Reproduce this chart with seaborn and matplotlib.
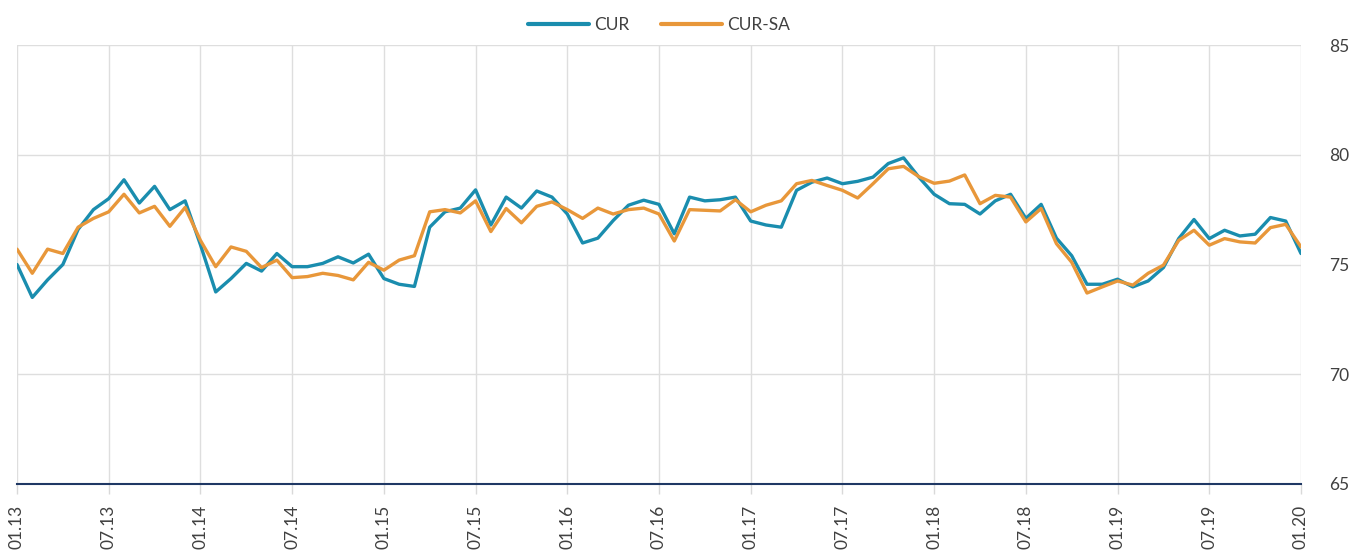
import numpy as np
import pandas as pd
import matplotlib
matplotlib.use("Agg")
import matplotlib.pyplot as plt
import seaborn as sns

# Monthly data, 01.2013 .. 01.2020
cur = [75.0, 73.5, 74.3, 75.0, 76.6, 77.5, 78.0, 78.86, 77.8, 78.56, 77.5, 77.9,
       75.9, 73.75, 74.36, 75.05, 74.7, 75.5, 74.9, 74.9, 75.05, 75.35, 75.07, 75.47,
       74.36, 74.1, 74.0, 76.7, 77.4, 77.57, 78.4, 76.8, 78.07, 77.57, 78.35, 78.07,
       77.3, 75.98, 76.2, 77.0, 77.7, 77.93, 77.74, 76.4, 78.07, 77.9, 77.95, 78.07,
       76.98, 76.8, 76.7, 78.38, 78.75, 78.94, 78.68, 78.79, 78.98, 79.6, 79.86, 78.98,
       78.2, 77.77, 77.74, 77.3, 77.9, 78.2, 77.1, 77.74, 76.2, 75.4, 74.1, 74.1,
       74.33, 73.98, 74.25, 74.86, 76.18, 77.05, 76.18, 76.56, 76.3, 76.38, 77.14, 76.98,
       75.5]
cur_sa = [75.7, 74.6, 75.7, 75.5, 76.7, 77.1, 77.4, 78.2, 77.35, 77.65, 76.74, 77.6,
          76.1, 74.9, 75.8, 75.6, 74.86, 75.2, 74.4, 74.45, 74.6, 74.5, 74.3, 75.1,
          74.74, 75.2, 75.4, 77.4, 77.5, 77.35, 77.9, 76.5, 77.55, 76.9, 77.65, 77.85,
          77.5, 77.1, 77.57, 77.3, 77.5, 77.57, 77.3, 76.07, 77.5, 77.47, 77.44, 77.95,
          77.4, 77.7, 77.9, 78.68, 78.83, 78.6, 78.38, 78.03, 78.68, 79.36, 79.47, 79.0,
          78.7, 78.8, 79.08, 77.77, 78.15, 78.07, 76.94, 77.55, 75.95, 75.1, 73.7, 73.98,
          74.25, 74.06, 74.6, 74.97, 76.1, 76.56, 75.88, 76.18, 76.03, 75.98, 76.68, 76.83,
          75.8]
tick_labels = ["01.13", "07.13", "01.14", "07.14", "01.15", "07.15", "01.16", "07.16",
               "01.17", "07.17", "01.18", "07.18", "01.19", "07.19", "01.20"]
y_ticks = [65, 70, 75, 80, 85]
series_names = ["CUR", "CUR-SA"]
colors = ["#1A8DAE", "#E8973A"]

n = len(cur)
df = pd.DataFrame({
    "month": list(range(n)) * 2,
    "value": cur + cur_sa,
    "series": [series_names[0]] * n + [series_names[1]] * n,
})

sns.set_theme(style="white")
plt.rcParams['font.family'] = ['Lato', 'DejaVu Sans']

fig = plt.figure(figsize=(13.62, 5.54), dpi=100)
ax = fig.add_axes([17 / 1362, 1 - 484 / 554, (1301 - 17) / 1362, (484 - 45) / 554])

sns.lineplot(data=df, x="month", y="value", hue="series", palette=colors,
             linewidth=2.4, ax=ax, legend=True)

ax.set_xlim(0, n - 1)
ax.set_ylim(65, 85)
ax.set_xticks(list(range(0, n, 6)))
ax.set_xticklabels(tick_labels, rotation=90, fontsize=12.5, color="#404040")
ax.set_yticks(y_ticks)
ax.set_yticklabels([str(v) for v in y_ticks], fontsize=12.5, color="#404040")
ax.yaxis.tick_right()
ax.set_xlabel("")
ax.set_ylabel("")

ax.grid(True, axis="both", color="#DEDEDE", linewidth=1.0)
ax.set_axisbelow(True)
for s in ["top", "left", "right"]:
    ax.spines[s].set_visible(False)
ax.spines["bottom"].set_color("#1F3864")
ax.spines["bottom"].set_linewidth(1.5)
ax.tick_params(axis="x", bottom=True, length=7, width=1.0, color="#D9D9D9", pad=8)
ax.tick_params(axis="y", right=False, left=False, pad=14)

leg = ax.legend(loc="lower center", bbox_to_anchor=(0.5, 1.0), ncol=2, frameon=False,
                fontsize=12.5, handlelength=3.5, handletextpad=0.3, columnspacing=1.8,
                borderaxespad=0.3)
for t in leg.get_texts():
    t.set_color("#404040")
for l in leg.get_lines():
    l.set_linewidth(3)

fig.savefig("out.png", dpi=100, facecolor="white")
